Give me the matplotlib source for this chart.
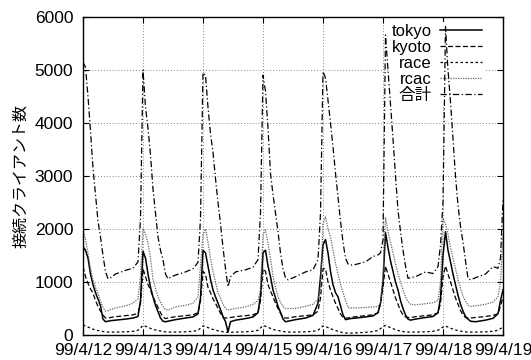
import numpy as np
import matplotlib
matplotlib.use('Agg')
import matplotlib.pyplot as plt

plt.rcParams['font.family'] = ['Liberation Sans', 'Noto Sans CJK JP']

# hours within each day where values were read
hours = [0, 1, 2, 3, 4, 5, 6, 7, 8, 9, 10, 11, 13, 17, 20, 22, 23]
days = ['99/4/12', '99/4/13', '99/4/14', '99/4/15', '99/4/16', '99/4/17', '99/4/18', '99/4/19']

tokyo = [
    [1660, 1600, 1450, 1150, 950, 800, 680, 550, 300, 250, 260, 270, 280, 300, 320, 350, 650],
    [1580, 1450, 1150, 900, 720, 560, 440, 320, 260, 250, 260, 270, 290, 320, 340, 400, 700],
    [1600, 1550, 1300, 1050, 850, 720, 600, 480, 350, 250, 60, 250, 280, 310, 340, 420, 750],
    [1550, 1600, 1300, 1100, 850, 700, 540, 430, 300, 250, 260, 270, 290, 320, 370, 600, 1100],
    [1700, 1800, 1550, 1200, 950, 800, 720, 550, 380, 290, 300, 310, 320, 340, 360, 420, 600],
    [1000, 1930, 1650, 1400, 1200, 1000, 850, 650, 500, 380, 300, 280, 300, 330, 350, 420, 700],
    [1500, 1950, 1600, 1380, 1150, 950, 750, 580, 450, 350, 300, 260, 250, 280, 315, 400, 650],
]
kyoto = [
    [1290, 1100, 975, 870, 790, 650, 540, 450, 380, 320, 320, 330, 345, 365, 380, 410, 600],
    [1250, 1100, 950, 850, 720, 620, 520, 420, 340, 310, 320, 330, 345, 365, 380, 420, 650],
    [1200, 1150, 900, 800, 680, 600, 500, 410, 330, 320, 320, 330, 345, 365, 380, 420, 650],
    [1250, 1200, 950, 830, 720, 600, 500, 410, 330, 320, 320, 330, 345, 365, 380, 450, 700],
    [1250, 1250, 1000, 850, 720, 600, 500, 400, 330, 320, 320, 330, 345, 365, 380, 420, 600],
    [900, 1300, 1150, 1000, 850, 700, 580, 460, 380, 340, 330, 330, 345, 365, 380, 420, 600],
    [1100, 1300, 1150, 1000, 850, 700, 580, 460, 380, 330, 320, 320, 330, 350, 370, 400, 550],
]
race = [
    [190, 170, 150, 130, 110, 95, 85, 75, 65, 60, 55, 55, 55, 60, 70, 90, 130],
    [180, 165, 145, 125, 105, 95, 85, 75, 65, 60, 55, 55, 55, 60, 70, 90, 130],
    [170, 160, 140, 120, 105, 90, 80, 70, 60, 55, 50, 50, 55, 60, 70, 90, 130],
    [180, 165, 145, 125, 105, 95, 85, 75, 65, 60, 55, 55, 55, 60, 70, 90, 130],
    [170, 160, 140, 120, 100, 85, 70, 55, 45, 40, 35, 35, 40, 50, 65, 85, 120],
    [160, 180, 160, 140, 120, 100, 85, 75, 65, 60, 55, 55, 55, 60, 70, 90, 120],
    [150, 170, 150, 130, 110, 95, 85, 75, 65, 60, 55, 55, 55, 60, 70, 90, 120],
]
rcac = [
    [2000, 1800, 1550, 1250, 1050, 900, 780, 650, 520, 450, 460, 480, 510, 550, 600, 680, 1100],
    [2010, 1900, 1730, 1450, 1050, 880, 720, 620, 535, 480, 470, 490, 530, 560, 600, 720, 1300],
    [1900, 2000, 1750, 1450, 1200, 1000, 800, 700, 580, 500, 470, 480, 500, 530, 580, 650, 850],
    [1900, 1980, 1730, 1450, 1100, 900, 720, 620, 540, 500, 500, 500, 500, 540, 580, 680, 900],
    [2100, 2230, 2000, 1850, 1600, 1350, 1150, 950, 800, 650, 520, 510, 510, 520, 530, 540, 600],
    [1100, 2220, 1950, 1750, 1550, 1350, 1150, 1000, 850, 720, 630, 580, 570, 590, 610, 650, 1000],
    [2200, 2100, 1900, 1650, 1450, 1250, 1050, 880, 730, 640, 560, 540, 550, 580, 620, 720, 1000],
]
total = [
    [5150, 5050, 4500, 3850, 3150, 2650, 2150, 1850, 1500, 1200, 1060, 1080, 1150, 1220, 1260, 1380, 2200],
    [5000, 4300, 3900, 3400, 2750, 2300, 1850, 1600, 1420, 1150, 1060, 1090, 1130, 1190, 1250, 1370, 2200],
    [4950, 4900, 4300, 3800, 3450, 2950, 2500, 2100, 1650, 1250, 910, 1100, 1190, 1230, 1280, 1420, 2300],
    [4900, 4600, 3900, 3050, 2650, 2300, 1950, 1550, 1250, 1080, 1040, 1060, 1100, 1190, 1230, 1420, 2300],
    [4970, 4850, 4430, 4000, 3550, 3050, 2600, 2150, 1750, 1450, 1340, 1320, 1330, 1380, 1480, 1510, 1550],
    [1800, 5660, 5000, 4350, 3700, 3000, 2360, 1950, 1600, 1300, 1070, 1080, 1100, 1190, 1160, 1290, 1700],
    [2500, 5820, 5000, 4400, 3700, 3000, 2450, 2050, 1750, 1400, 1070, 1040, 1080, 1150, 1290, 1260, 1450],
]
# values at 99/4/19 00:00
last = {'tokyo': 850, 'kyoto': 700, 'race': 150, 'rcac': 1900, 'total': 2550}


def flatten(perday, end):
    return np.append(np.concatenate(perday), end)


x = np.append(np.concatenate([np.array(hours) + 24 * d for d in range(7)]), 168)

series = [
    ('tokyo', flatten(tokyo, last['tokyo']), dict(color='black', lw=1.1, ls='-')),
    ('kyoto', flatten(kyoto, last['kyoto']), dict(color='black', lw=0.9, ls=(0, (4, 2)))),
    ('race', flatten(race, last['race']), dict(color='black', lw=0.9, ls=(0, (2, 2)))),
    ('rcac', flatten(rcac, last['rcac']), dict(color='#666666', lw=0.9, ls=(0, (1, 1)))),
    ('合計', flatten(total, last['total']), dict(color='black', lw=0.9, ls=(0, (5, 2, 1, 2)))),
]

fig = plt.figure(figsize=(5.31, 3.6), dpi=100)
ax = fig.add_axes([83 / 531, 25 / 360, 420 / 531, 318 / 360])

for name, y, style in series:
    ax.plot(x, y, label=name, **style)

ax.set_xlim(0, 168)
ax.set_ylim(0, 6000)
ax.set_xticks(np.arange(0, 169, 24))
ax.set_xticklabels(days)
ax.set_yticks(np.arange(0, 6001, 1000))
ax.tick_params(direction='in', top=True, right=True, length=4, labelsize=12.5)
ax.tick_params(axis='y', pad=7)
ax.tick_params(axis='x', pad=6)
ax.set_axisbelow(True)
ax.grid(True, color='#888888', ls=(0, (1, 2)), lw=0.7)
for s in ax.spines.values():
    s.set_linewidth(1.0)

ax.set_ylabel('接続クライアント数', fontsize=11.5, family=['Noto Sans CJK JP'], labelpad=4)

leg = ax.legend(loc='upper right', bbox_to_anchor=(0.955, 0.985), frameon=True,
                markerfirst=False, fontsize=12, handlelength=2.5,
                handletextpad=0.5, labelspacing=0.05, borderpad=0.15,
                borderaxespad=0)
leg.get_frame().set_edgecolor('none')
leg.get_frame().set_facecolor('white')
leg.get_frame().set_alpha(1)
for t in leg.get_texts():
    t.set_ha('right')
leg._legend_box.align = 'right'
leg.set_zorder(1.5)

fig.savefig('out.png', dpi=100)
